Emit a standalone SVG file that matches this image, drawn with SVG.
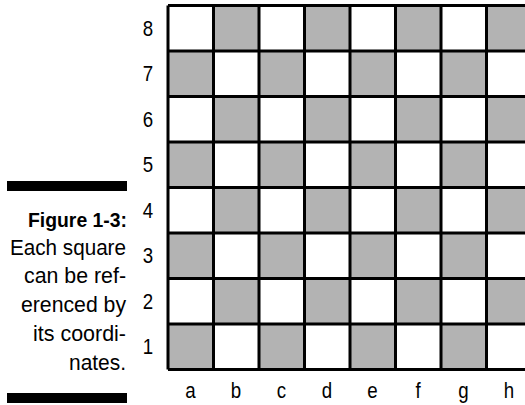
<svg xmlns="http://www.w3.org/2000/svg" width="525" height="405" viewBox="0 0 525 405">
<style>
.g{fill:#b3b3b3}
.grid{stroke:#000;stroke-width:3;fill:none}
.lbl{font-family:"Liberation Sans",Arial,sans-serif;font-size:22px;fill:#000;text-anchor:middle}
.cap{font-family:"Liberation Sans",Arial,sans-serif;font-size:22px;fill:#000;text-anchor:end}
.bold{font-weight:bold;font-size:21px}
</style>
<rect width="525" height="405" fill="#fff"/>
<g id="board">
<g id="squares">
<rect class="g" x="213.5" y="5.5" width="45.5" height="45.5"/>
<rect class="g" x="304.5" y="5.5" width="45.5" height="45.5"/>
<rect class="g" x="395.5" y="5.5" width="45.5" height="45.5"/>
<rect class="g" x="486.5" y="5.5" width="45.5" height="45.5"/>
<rect class="g" x="168" y="51" width="45.5" height="45.5"/>
<rect class="g" x="259" y="51" width="45.5" height="45.5"/>
<rect class="g" x="350" y="51" width="45.5" height="45.5"/>
<rect class="g" x="441" y="51" width="45.5" height="45.5"/>
<rect class="g" x="213.5" y="96.5" width="45.5" height="45.5"/>
<rect class="g" x="304.5" y="96.5" width="45.5" height="45.5"/>
<rect class="g" x="395.5" y="96.5" width="45.5" height="45.5"/>
<rect class="g" x="486.5" y="96.5" width="45.5" height="45.5"/>
<rect class="g" x="168" y="142" width="45.5" height="45.5"/>
<rect class="g" x="259" y="142" width="45.5" height="45.5"/>
<rect class="g" x="350" y="142" width="45.5" height="45.5"/>
<rect class="g" x="441" y="142" width="45.5" height="45.5"/>
<rect class="g" x="213.5" y="187.5" width="45.5" height="45.5"/>
<rect class="g" x="304.5" y="187.5" width="45.5" height="45.5"/>
<rect class="g" x="395.5" y="187.5" width="45.5" height="45.5"/>
<rect class="g" x="486.5" y="187.5" width="45.5" height="45.5"/>
<rect class="g" x="168" y="233" width="45.5" height="45.5"/>
<rect class="g" x="259" y="233" width="45.5" height="45.5"/>
<rect class="g" x="350" y="233" width="45.5" height="45.5"/>
<rect class="g" x="441" y="233" width="45.5" height="45.5"/>
<rect class="g" x="213.5" y="278.5" width="45.5" height="45.5"/>
<rect class="g" x="304.5" y="278.5" width="45.5" height="45.5"/>
<rect class="g" x="395.5" y="278.5" width="45.5" height="45.5"/>
<rect class="g" x="486.5" y="278.5" width="45.5" height="45.5"/>
<rect class="g" x="168" y="324" width="45.5" height="45.5"/>
<rect class="g" x="259" y="324" width="45.5" height="45.5"/>
<rect class="g" x="350" y="324" width="45.5" height="45.5"/>
<rect class="g" x="441" y="324" width="45.5" height="45.5"/>
</g>
<path class="grid" d="M168 5.5H532M168 51H532M168 96.5H532M168 142H532M168 187.5H532M168 233H532M168 278.5H532M168 324H532M168 369.5H532M168 5.5V369.5M213.5 5.5V369.5M259 5.5V369.5M304.5 5.5V369.5M350 5.5V369.5M395.5 5.5V369.5M441 5.5V369.5M486.5 5.5V369.5"/>
</g>
<g id="ranks" transform="scale(0.85,1)">
<text class="lbl" x="174.1" y="36">8</text>
<text class="lbl" x="174.1" y="81.5">7</text>
<text class="lbl" x="174.1" y="127">6</text>
<text class="lbl" x="174.1" y="172.5">5</text>
<text class="lbl" x="174.1" y="218">4</text>
<text class="lbl" x="174.1" y="263.5">3</text>
<text class="lbl" x="174.1" y="309">2</text>
<text class="lbl" x="174.1" y="354.5">1</text>
</g>
<g id="files" transform="scale(0.85,1)">
<text class="lbl" x="224.1" y="398">a</text>
<text class="lbl" x="277.6" y="398">b</text>
<text class="lbl" x="331.2" y="398">c</text>
<text class="lbl" x="384.7" y="398">d</text>
<text class="lbl" x="438.2" y="398">e</text>
<text class="lbl" x="491.8" y="398">f</text>
<text class="lbl" x="545.3" y="398">g</text>
<text class="lbl" x="598.8" y="398">h</text>
</g>
<g id="caption">
<rect x="7" y="181" width="120" height="10" fill="#000"/>
<text class="cap bold" x="127" y="227" textLength="99" lengthAdjust="spacingAndGlyphs">Figure 1-3:</text>
<text class="cap" x="126" y="255" textLength="116" lengthAdjust="spacingAndGlyphs">Each square</text>
<text class="cap" x="126" y="283" textLength="102" lengthAdjust="spacingAndGlyphs">can be ref-</text>
<text class="cap" x="126" y="312" textLength="105" lengthAdjust="spacingAndGlyphs">erenced by</text>
<text class="cap" x="126" y="341" textLength="93" lengthAdjust="spacingAndGlyphs">its coordi-</text>
<text class="cap" x="126" y="370" textLength="57" lengthAdjust="spacingAndGlyphs">nates.</text>
<rect x="7" y="393" width="120" height="10" fill="#000"/>
</g>
</svg>
